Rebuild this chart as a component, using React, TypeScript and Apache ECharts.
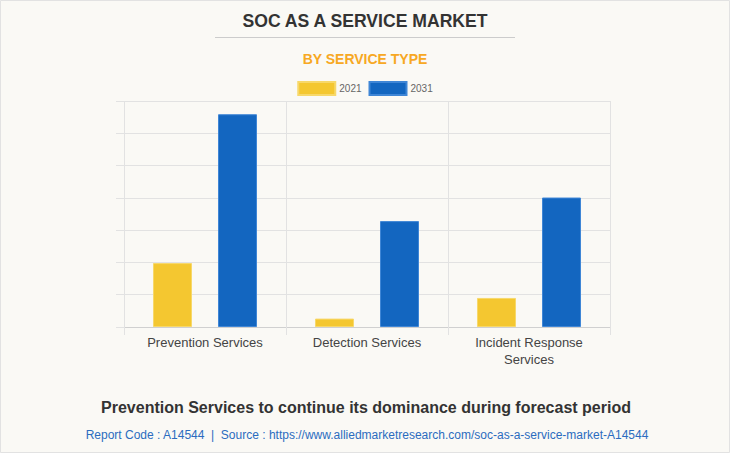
import React, { useEffect, useRef } from 'react';
import * as echarts from 'echarts';

const categories = ['Prevention Services', 'Detection Services', 'Incident Response\nServices'];
const years = ['2021', '2031'];
const values2021 = [198, 26, 90];
const values2031 = [659, 328, 401];

const FONT = '"Liberation Sans", Arial, Helvetica, sans-serif';

const App: React.FC = () => {
  const chartRef = useRef<HTMLDivElement>(null);

  useEffect(() => {
    if (!chartRef.current) return;
    const chart = echarts.init(chartRef.current, undefined, { renderer: 'svg' });

    const option: echarts.EChartsOption = {
      animation: false,
      backgroundColor: '#faf9f5',
      textStyle: { fontFamily: FONT },
      legend: {
        data: years,
        top: 81,
        left: 'center',
        padding: 0,
        itemWidth: 37,
        itemHeight: 13,
        itemGap: 7,
        icon: 'rect',
        textStyle: { color: '#666', fontSize: 10, fontFamily: FONT, padding: [1, 0, 0, -1] }
      },
      grid: { left: 124, right: 120, top: 101, bottom: 126 },
      xAxis: {
        type: 'category',
        data: categories,
        axisLine: { show: true, lineStyle: { color: '#d0d0d0' } },
        axisTick: { show: true, length: 8, lineStyle: { color: '#e2e2e2' } },
        splitLine: { show: true, lineStyle: { color: '#e2e2e2' } },
        axisLabel: { color: '#444', fontSize: 13, fontFamily: FONT, margin: 7, lineHeight: 17 }
      },
      yAxis: {
        type: 'value',
        min: 0,
        max: 700,
        interval: 100,
        axisLabel: { show: false },
        axisLine: { show: false },
        axisTick: { show: true, length: 8, lineStyle: { color: '#e2e2e2' } },
        splitLine: { show: true, lineStyle: { color: '#e2e2e2' } }
      },
      series: [
        {
          name: years[0],
          type: 'bar',
          data: values2021,
          barWidth: 39,
          barGap: '66.7%',
          itemStyle: { color: '#f4c730', borderColor: '#f7d86a', borderWidth: 1 }
        },
        {
          name: years[1],
          type: 'bar',
          data: values2031,
          barWidth: 39,
          itemStyle: { color: '#1366c0', borderColor: '#3f86d6', borderWidth: 1 }
        }
      ],
      graphic: [
        {
          type: 'rect',
          shape: { x: 0.5, y: 0.5, width: 729, height: 452 },
          style: { fill: 'none', stroke: '#e2e2e2', lineWidth: 1 },
          silent: true
        },
        {
          type: 'text',
          x: 365,
          y: 21,
          style: {
            text: 'SOC AS A SERVICE MARKET',
            fill: '#333',
            font: `bold 17.6px ${FONT}`,
            align: 'center',
            verticalAlign: 'middle'
          }
        },
        {
          type: 'line',
          shape: { x1: 215, y1: 37.5, x2: 515, y2: 37.5 },
          style: { stroke: '#cccccc', lineWidth: 1 }
        },
        {
          type: 'text',
          x: 365,
          y: 59,
          style: {
            text: 'BY SERVICE TYPE',
            fill: '#f7a823',
            font: `bold 14px ${FONT}`,
            align: 'center',
            verticalAlign: 'middle'
          }
        },
        {
          type: 'text',
          x: 366,
          y: 407,
          style: {
            text: 'Prevention Services to continue its dominance during forecast period',
            fill: '#333',
            font: `bold 16px ${FONT}`,
            align: 'center',
            verticalAlign: 'middle'
          }
        },
        {
          type: 'text',
          x: 367,
          y: 435,
          style: {
            text: 'Report Code : A14544  |  Source : https://www.alliedmarketresearch.com/soc-as-a-service-market-A14544',
            fill: '#2b6cbf',
            font: `12px ${FONT}`,
            align: 'center',
            verticalAlign: 'middle'
          }
        }
      ]
    };

    chart.setOption(option);
    return () => {
      chart.dispose();
    };
  }, []);

  return (
    <div style={{ position: 'fixed', left: 0, top: 0 }}>
      <div ref={chartRef} style={{ width: 730, height: 453 }} />
    </div>
  );
};

export default App;
